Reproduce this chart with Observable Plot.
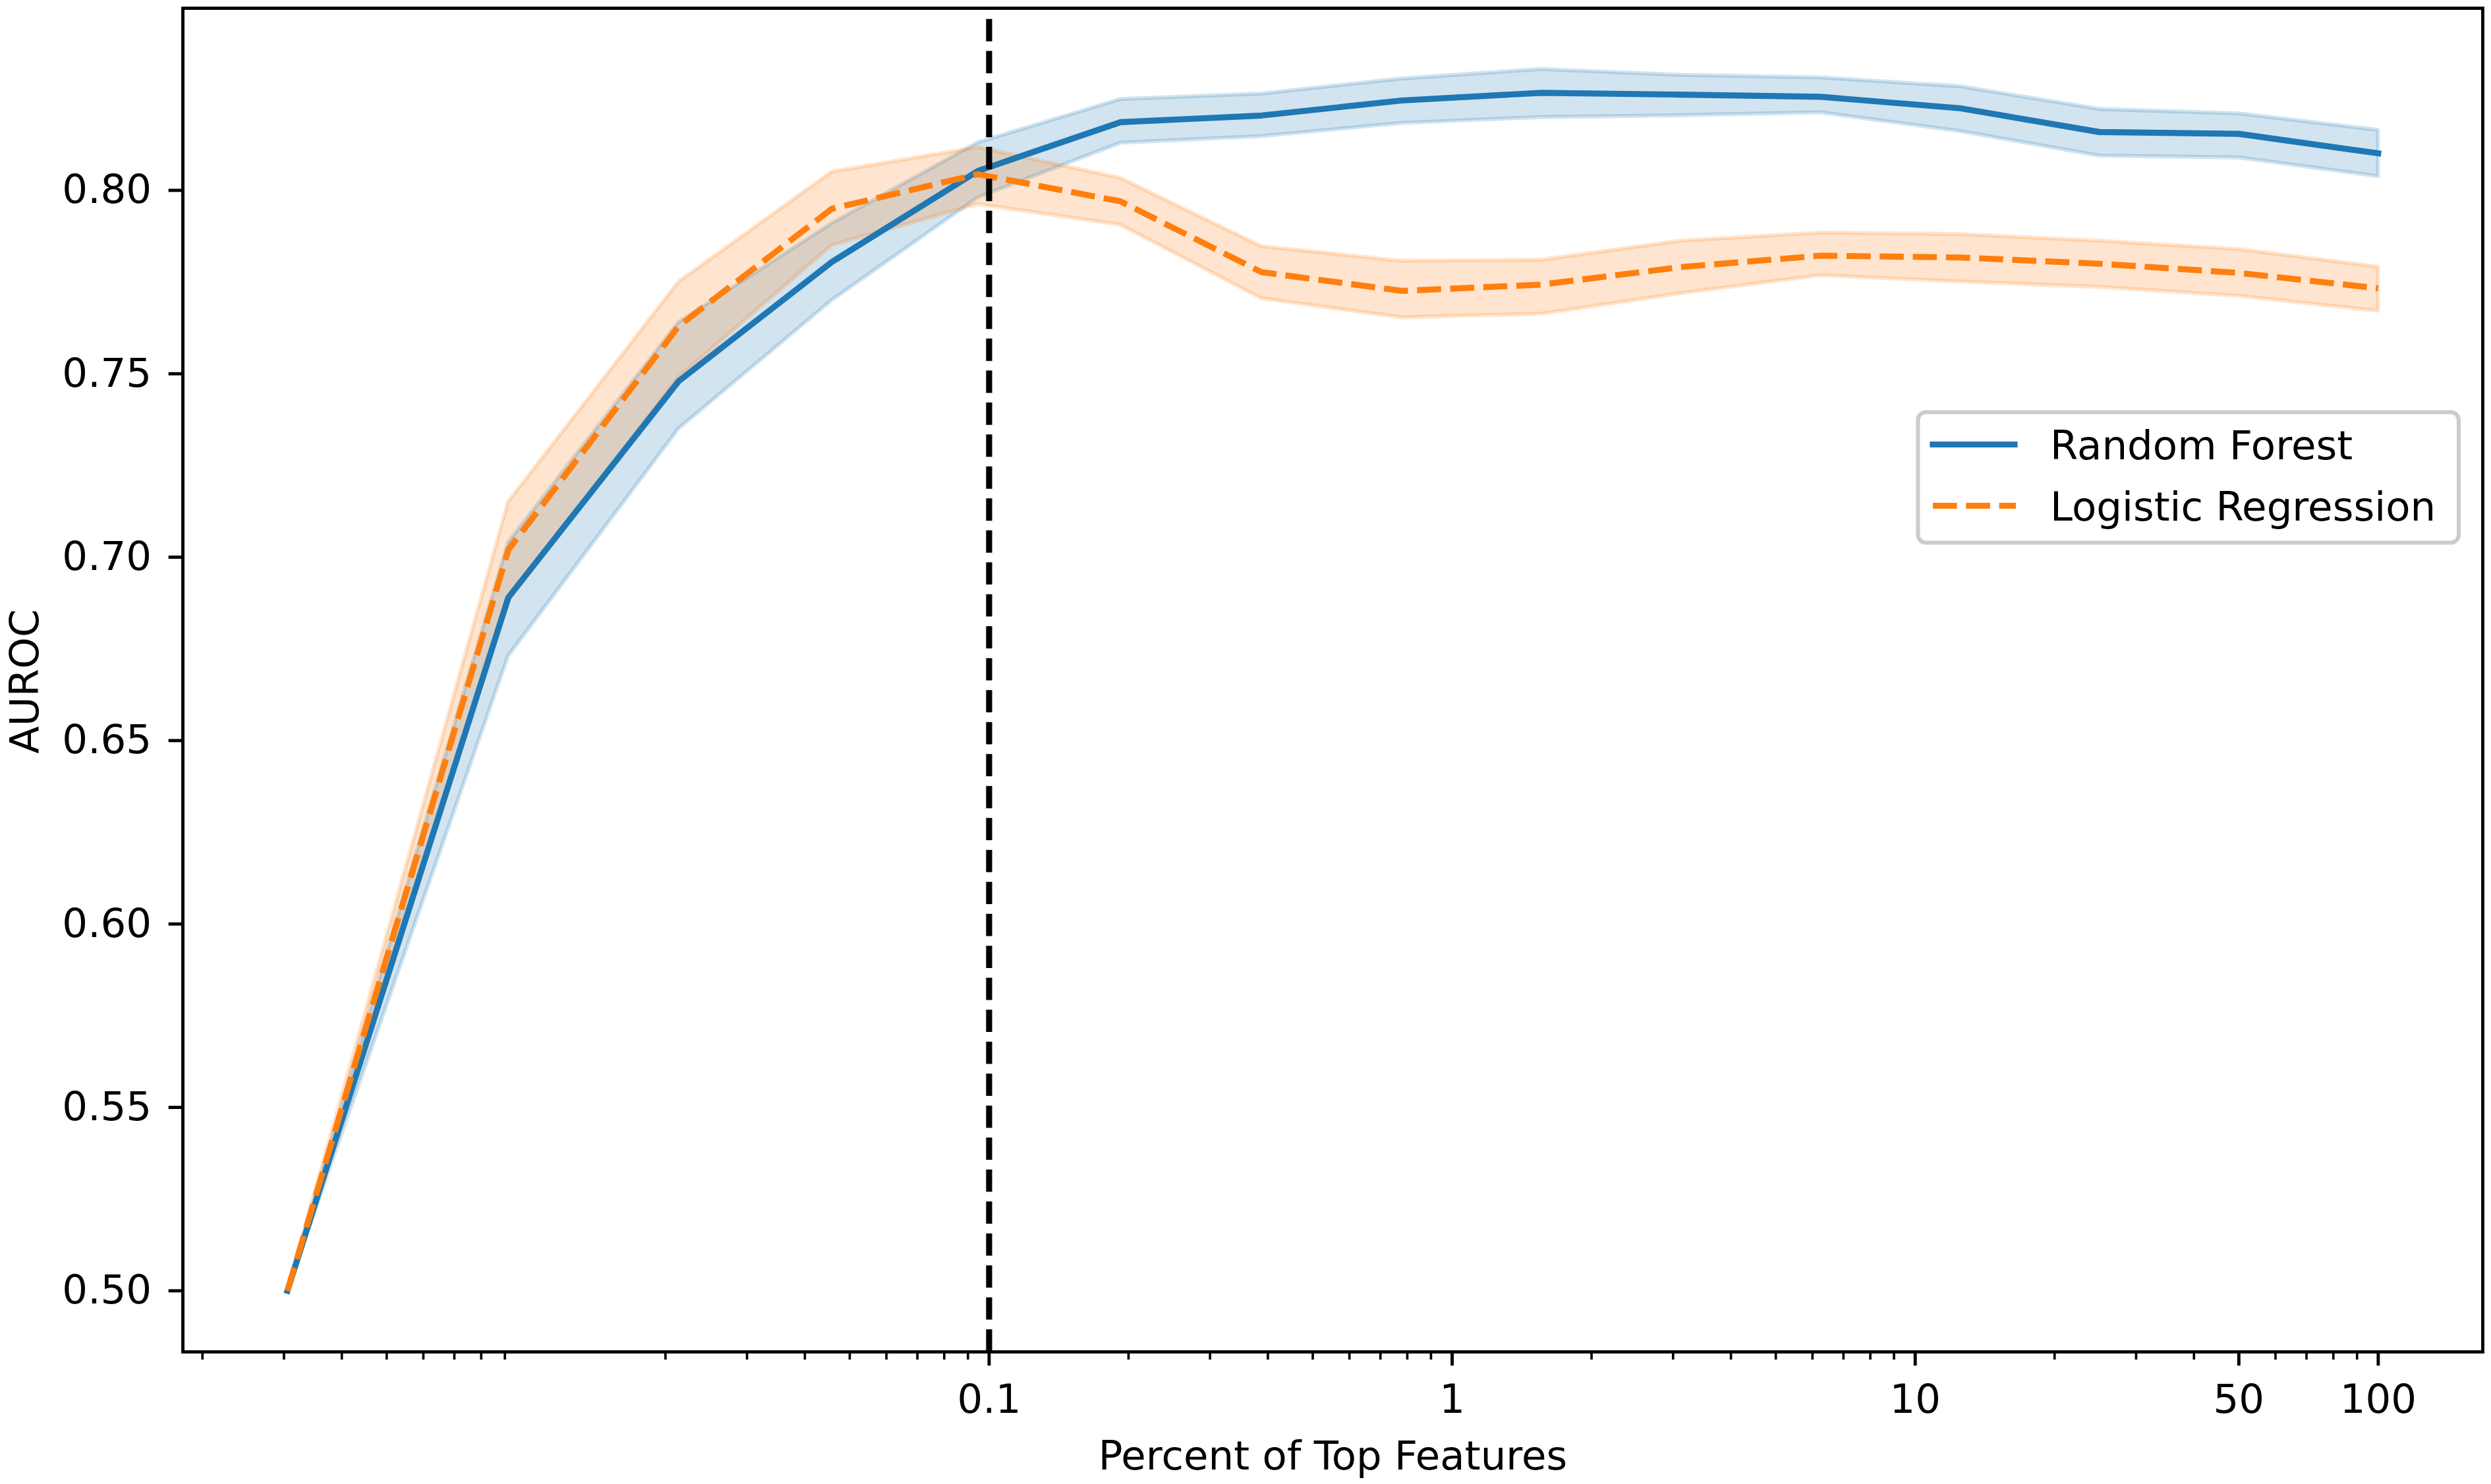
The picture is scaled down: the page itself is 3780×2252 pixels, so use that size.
<!DOCTYPE html>
<html>
<head>
<meta charset="utf-8">
<script src="https://cdn.jsdelivr.net/npm/d3@7"></script>
<script src="https://cdn.jsdelivr.net/npm/@observablehq/plot@0.6"></script>
<style>
  html, body { margin: 0; padding: 0; background: #fff; }
  svg { display: block; }
</style>
</head>
<body>
<div id="chart"></div>
<script>
// ---- data ----
const nFeatures = [1, 3, 7, 15, 31, 63, 127, 255, 511, 1023, 2047, 4095, 8191, 16383, 32767];
const totalFeatures = 32768;
const percent = nFeatures.map(k => 100 * k / totalFeatures);

const rfMean = [0.500, 0.689, 0.748, 0.7805, 0.8053, 0.8186, 0.8204, 0.8245, 0.8266, 0.8261, 0.8255, 0.8224, 0.8159, 0.8154, 0.8101];
const rfLow  = [0.500, 0.673, 0.735, 0.770, 0.798, 0.8129, 0.8147, 0.8183, 0.8199, 0.8204, 0.8212, 0.8161, 0.8094, 0.8089, 0.8038];
const rfHigh = [0.500, 0.704, 0.764, 0.791, 0.813, 0.8248, 0.8263, 0.8304, 0.8330, 0.8314, 0.8307, 0.8283, 0.8221, 0.8209, 0.8164];

const lrMean = [0.500, 0.702, 0.763, 0.795, 0.8044, 0.7970, 0.7777, 0.7726, 0.7743, 0.7791, 0.7822, 0.7817, 0.7800, 0.7775, 0.7733];
const lrLow  = [0.500, 0.688, 0.749, 0.785, 0.7962, 0.7906, 0.7705, 0.7653, 0.7663, 0.7719, 0.7768, 0.7751, 0.7736, 0.7712, 0.7671];
const lrHigh = [0.500, 0.715, 0.775, 0.805, 0.8117, 0.8033, 0.7847, 0.7807, 0.7810, 0.7862, 0.7884, 0.7880, 0.7862, 0.7839, 0.7791];

const seriesNames = ["Random Forest", "Logistic Regression"];
const seriesColors = ["#1f77b4", "#ff7f0e"];
const cutoff = 0.1;

const xTicks = [0.1, 1, 10, 50, 100];
const xTickLabels = ["0.1", "1", "10", "50", "100"];
const xMinorTicks = [0.002, 0.003, 0.004, 0.005, 0.006, 0.007, 0.008, 0.009,
                     0.02, 0.03, 0.04, 0.05, 0.06, 0.07, 0.08, 0.09,
                     0.2, 0.3, 0.4, 0.5, 0.6, 0.7, 0.8, 0.9,
                     2, 3, 4, 5, 6, 7, 8, 9,
                     20, 30, 40, 60, 70, 80, 90];
const yTicks = [0.50, 0.55, 0.60, 0.65, 0.70, 0.75, 0.80];
const xLabel = "Percent of Top Features";
const yLabel = "AUROC";

// ---- tables ----
const rf = percent.map((p, i) => ({pct: p, mean: rfMean[i], low: rfLow[i], high: rfHigh[i]}));
const lr = percent.map((p, i) => ({pct: p, mean: lrMean[i], low: lrLow[i], high: lrHigh[i]}));
const xTickTable = xTicks.map((v, i) => ({v, label: xTickLabels[i]}));

// matplotlib-like 5% margins
const lx = d3.extent(percent).map(Math.log10);
const padX = 0.05 * (lx[1] - lx[0]);
const xDomain = [10 ** (lx[0] - padX), 10 ** (lx[1] + padX)];
const yMin = d3.min([...rfLow, ...lrLow]);
const yMax = d3.max([...rfHigh, ...lrHigh]);
const padY = 0.05 * (yMax - yMin);
const yDomain = [yMin - padY, yMax + padY];

const PT = 6.1;           // px per point
const FS = 61;            // font size (10pt)
const LW = 1.5 * PT;      // line width

const W = 3780, H = 2252;
const mL = 277, mR = 13, mT = 12, mB = 201;

const chart = Plot.plot({
  width: W,
  height: H,
  marginLeft: mL,
  marginRight: mR,
  marginTop: mT,
  marginBottom: mB,
  style: {fontFamily: "DejaVu Sans", fontSize: FS + "px", background: "#fff", color: "#000"},
  x: {type: "log", domain: xDomain},
  y: {type: "linear", domain: yDomain},
  marks: [
    // confidence bands (below all lines, like matplotlib zorder)
    Plot.areaY(rf, {x: "pct", y1: "low", y2: "high", fill: seriesColors[0], fillOpacity: 0.2,
                    stroke: seriesColors[0], strokeOpacity: 0.2, strokeWidth: PT}),
    Plot.areaY(lr, {x: "pct", y1: "low", y2: "high", fill: seriesColors[1], fillOpacity: 0.2,
                    stroke: seriesColors[1], strokeOpacity: 0.2, strokeWidth: PT}),
    // mean lines
    Plot.line(rf, {x: "pct", y: "mean", stroke: seriesColors[0], strokeWidth: LW,
                   strokeLinecap: "square", strokeLinejoin: "round"}),
    Plot.line(lr, {x: "pct", y: "mean", stroke: seriesColors[1], strokeWidth: LW,
                   strokeDasharray: `${6 * PT},${2.25 * PT}`, strokeLinecap: "butt", strokeLinejoin: "round"}),
    // cutoff
    Plot.ruleX([cutoff], {y1: yDomain[0], y2: yDomain[1], stroke: "#000", strokeWidth: LW,
                          strokeDasharray: `${5.55 * PT},${2.4 * PT}`, strokeLinecap: "butt"}),
    Plot.frame({stroke: "#000", strokeWidth: 0.8 * PT}),
    // axes
    Plot.axisY({ticks: yTicks, tickFormat: d3.format(".2f"), tickSize: 3.5 * PT, tickPadding: 26,
                strokeWidth: 0.8 * PT, fontSize: FS, label: null}),
    Plot.axisX({ticks: xMinorTicks, tickFormat: () => "", tickSize: 2 * PT,
                strokeWidth: 0.6 * PT, fontSize: FS, label: null}),
    Plot.axisX({ticks: xTicks, tickFormat: () => "", tickSize: 3.5 * PT,
                strokeWidth: 0.8 * PT, fontSize: FS, label: null}),
    Plot.text(xTickTable, {x: "v", frameAnchor: "bottom", text: "label", dy: 3.5 * PT + 28,
                           fontSize: FS, textAnchor: "middle", lineAnchor: "top", fill: "#000"}),
    // axis titles
    Plot.text([yLabel], {frameAnchor: "left", dx: -239, dy: 2, rotate: -90, fontSize: FS,
                         textAnchor: "middle", lineAnchor: "middle", fill: "#000"}),
    Plot.text([xLabel], {frameAnchor: "bottom", dy: 178, fontSize: FS,
                         textAnchor: "middle", lineAnchor: "bottom", fill: "#000"})
  ]
});

document.getElementById("chart").appendChild(chart);

// ---- legend (placed inside the axes, upper right) ----
const svg = d3.select(chart);
const lg = svg.append("g").attr("class", "legend")
  .attr("font-family", "DejaVu Sans").attr("font-size", FS).attr("text-anchor", "start");
lg.append("rect")
  .attr("x", 2910.5).attr("y", 625.5).attr("width", 820.5).attr("height", 198)
  .attr("rx", 12).attr("ry", 12)
  .attr("fill", "#fff").attr("fill-opacity", 0.8)
  .attr("stroke", "#cccccc").attr("stroke-width", PT);
const rows = [
  {name: seriesNames[0], color: seriesColors[0], dash: null, y: 674.5, cap: "square"},
  {name: seriesNames[1], color: seriesColors[1], dash: `${6 * PT},${2.25 * PT}`, y: 767.5, cap: "butt"}
];
rows.forEach(r => {
  const ln = lg.append("line")
    .attr("x1", 2933).attr("x2", r.cap === "butt" ? 3059 : 3057)
    .attr("y1", r.y).attr("y2", r.y)
    .attr("stroke", r.color).attr("stroke-width", LW).attr("stroke-linecap", r.cap);
  if (r.dash) ln.attr("stroke-dasharray", r.dash);
  lg.append("text").attr("x", 3111).attr("y", r.y + 22).attr("text-anchor", "start")
    .attr("fill", "#000").text(r.name);
});
</script>
</body>
</html>
